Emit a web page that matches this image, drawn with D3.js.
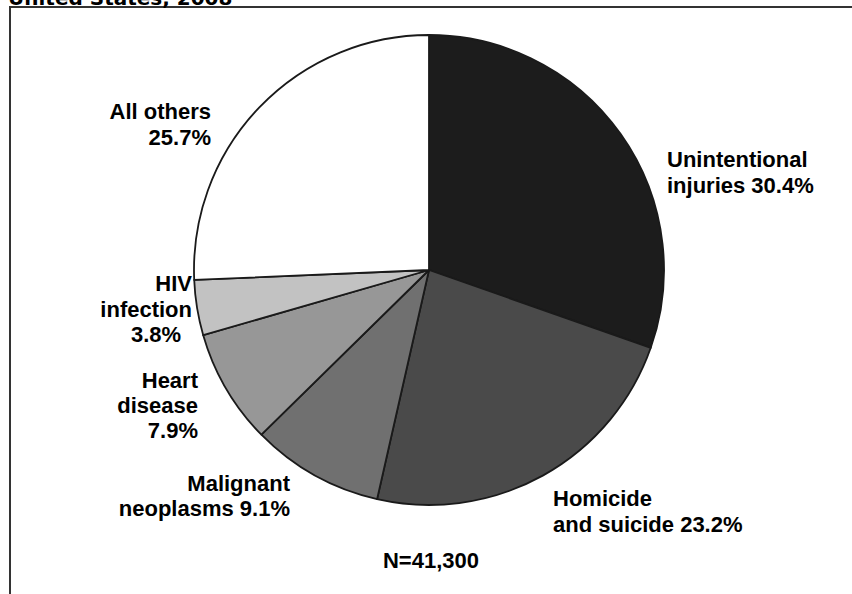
<!DOCTYPE html>
<html>
<head>
<meta charset="utf-8">
<script src="https://cdn.jsdelivr.net/npm/d3@7"></script>
<style>
  html, body { margin: 0; padding: 0; background: #fff; }
  svg { display: block; }
</style>
</head>
<body>
<svg id="chart" width="852" height="594"></svg>
<script>
// ---- data ----
const titleText = "United States, 2008";
const categories = ["Unintentional injuries", "Homicide and suicide", "Malignant neoplasms", "Heart disease", "HIV infection", "All others"];
const values = [30.4, 23.2, 9.1, 7.9, 3.8, 25.7];
const labelLines = [
  ["Unintentional", "injuries 30.4%"],
  ["Homicide", "and suicide 23.2%"],
  ["Malignant", "neoplasms 9.1%"],
  ["Heart", "disease", "7.9%"],
  ["HIV", "infection", "3.8%"],
  ["All others", "25.7%"]
];
const fills = ["#1c1c1c", "#4a4a4a", "#707070", "#979797", "#c2c2c2", "#ffffff"];
const totalNote = "N=41,300";

// ---- layout ----
const svg = d3.select("#chart");
const cx = 429, cy = 270, R = 235;

// border box (extends beyond the visible window)
svg.append("rect")
  .attr("x", 10).attr("y", 7)
  .attr("width", 900).attr("height", 700)
  .attr("fill", "none").attr("stroke", "#333").attr("stroke-width", 2);

// cut-off title (only its lower part shows, as in the reference)
svg.append("text")
  .attr("x", 8).attr("y", 5)
  .attr("font-family", "DejaVu Sans, Verdana, sans-serif")
  .attr("font-weight", "bold").attr("font-size", 20)
  .attr("fill", "#000")
  .text(titleText);

const data = categories.map((c, i) => ({ name: c, value: values[i], i }));
const pie = d3.pie().value(d => d.value).sort(null);
const arc = d3.arc().innerRadius(0).outerRadius(R);

const g = svg.append("g").attr("transform", `translate(${cx},${cy})`);
g.selectAll("path")
  .data(pie(data))
  .join("path")
  .attr("d", arc)
  .attr("fill", d => fills[d.data.i])
  .attr("stroke", "#1a1a1a")
  .attr("stroke-width", 1.8)
  .attr("stroke-linejoin", "round");

// label placement (anchor x, first baseline, anchor)
const labelPos = [
  { x: 667, y: 167, anchor: "start" },
  { x: 553, y: 506, anchor: "start" },
  { x: 290, y: 491, anchor: "end", dy: 24.5 },
  { x: 198, y: 388, anchor: "end", dy: 25 },
  { x: 192, y: 291, anchor: "end", dy: 25.5, last: { x: 131, anchor: "start" } },
  { x: 211, y: 119, anchor: "end" }
];

const font = "Liberation Sans, Arial, Helvetica, sans-serif";
labelLines.forEach((lines, i) => {
  const p = labelPos[i];
  const step = p.dy || 26;
  lines.forEach((ln, k) => {
    let x = p.x, anchor = p.anchor;
    if (p.last && k === lines.length - 1) { x = p.last.x; anchor = p.last.anchor; }
    svg.append("text")
      .attr("x", x).attr("y", p.y + k * step)
      .attr("text-anchor", anchor)
      .attr("font-family", font).attr("font-weight", "bold")
      .attr("font-size", 22).attr("fill", "#000")
      .text(ln);
  });
});

svg.append("text")
  .attr("x", 431).attr("y", 568)
  .attr("text-anchor", "middle")
  .attr("font-family", font).attr("font-weight", "bold")
  .attr("font-size", 22).attr("fill", "#000")
  .text(totalNote);
</script>
</body>
</html>
